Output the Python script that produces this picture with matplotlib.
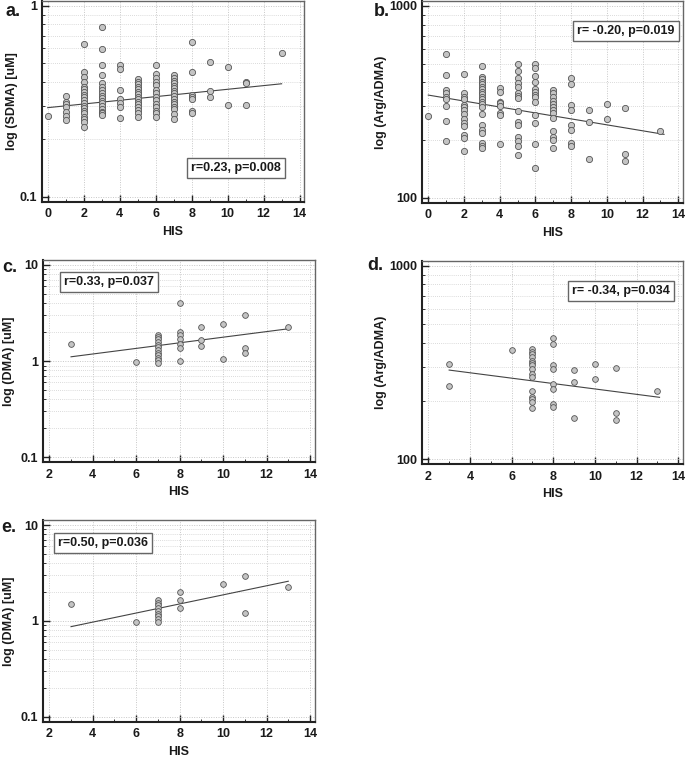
import numpy as np
import matplotlib
matplotlib.use("Agg")
import matplotlib.pyplot as plt
from matplotlib.ticker import FixedLocator, FixedFormatter, LogLocator, NullFormatter, MultipleLocator

plt.rcParams['font.family'] = ['Liberation Sans', 'DejaVu Sans']
plt.rcParams['font.weight'] = 'bold'

# ---------------- data ----------------
# Panel a: HIS vs SDMA
a_his = [0, 1, 2, 3, 4, 5, 6, 7, 8, 9, 10, 11, 13]
a_vals = [
    [0.264],
    [0.339, 0.315, 0.306, 0.294, 0.279, 0.265, 0.252],
    [0.629, 0.449, 0.426, 0.401, 0.378, 0.366, 0.355, 0.341, 0.332, 0.321, 0.309,
     0.299, 0.291, 0.281, 0.274, 0.263, 0.254, 0.247, 0.232],
    [0.779, 0.598, 0.489, 0.433, 0.393, 0.374, 0.362, 0.351, 0.337, 0.328, 0.319,
     0.309, 0.299, 0.290, 0.279, 0.274, 0.267],
    [0.490, 0.469, 0.362, 0.324, 0.309, 0.294, 0.258],
    [0.414, 0.401, 0.390, 0.378, 0.366, 0.355, 0.344, 0.335, 0.324, 0.315, 0.305,
     0.296, 0.285, 0.274, 0.261],
    [0.492, 0.440, 0.418, 0.401, 0.385, 0.362, 0.348, 0.335, 0.321, 0.305, 0.294,
     0.282, 0.274, 0.263],
    [0.435, 0.418, 0.404, 0.393, 0.380, 0.370, 0.358, 0.348, 0.337, 0.327, 0.315,
     0.306, 0.296, 0.287, 0.272, 0.255],
    [0.650, 0.449, 0.341, 0.332, 0.324, 0.281, 0.274],
    [0.507, 0.358, 0.332],
    [0.479, 0.304],
    [0.401, 0.393, 0.304],
    [0.565],
]
a_fit_x = [0, 13]
a_fit_y = [0.293, 0.391]
a_stat = "r=0.23, p=0.008"

# Panel b: HIS vs Arg/ADMA
b_his = [0, 1, 2, 3, 4, 5, 6, 7, 8, 9, 10, 11, 13]
b_vals = [
    [268],
    [562, 436, 365, 353, 336, 329, 301, 252, 198],
    [440, 350, 336, 326, 303, 296, 287, 272, 258, 246, 238, 213, 205, 176],
    [486, 428, 416, 403, 392, 380, 367, 357, 346, 336, 326, 317, 307, 298, 272,
     239, 225, 217, 192, 187, 181],
    [372, 355, 317, 311, 301, 275, 270, 191],
    [498, 458, 419, 398, 377, 350, 339, 330, 284, 249, 239, 208, 198, 185, 167],
    [496, 473, 431, 401, 367, 357, 343, 334, 317, 270, 244, 191, 143],
    [365, 350, 334, 319, 307, 298, 287, 275, 262, 223, 208, 200, 181],
    [419, 390, 303, 287, 239, 225, 192, 185],
    [286, 247, 160],
    [307, 256],
    [295, 170, 156],
    [223],
]
b_fit_x = [0, 13.2]
b_fit_y = [343, 214]
b_stat = "r= -0.20, p=0.019"

# Panel c: HIS vs DMA
c_his = [3, 6, 7, 8, 9, 10, 11, 13]
c_vals = [
    [1.51],
    [0.98],
    [1.89, 1.79, 1.68, 1.58, 1.48, 1.39, 1.30, 1.22, 1.15, 1.07, 1.02, 0.96],
    [4.04, 2.03, 1.85, 1.68, 1.51, 1.36, 1.01],
    [2.29, 1.65, 1.43],
    [2.42, 1.06],
    [2.99, 1.36, 1.22],
    [2.29],
]
c_fit_x = [3, 13]
c_fit_y = [1.11, 2.17]
c_stat = "r=0.33, p=0.037"

# Panel d: HIS vs Arg/ADMA
d_his = [3, 6, 7, 8, 9, 10, 11, 13]
d_vals = [
    [312, 240],
    [367],
    [370, 360, 348, 339, 322, 313, 306, 292, 275, 265, 226, 211, 204, 197, 184],
    [425, 392, 306, 292, 244, 230, 194, 187],
    [289, 250, 163],
    [310, 259],
    [297, 173, 160],
    [226],
]
d_fit_x = [3, 13.1]
d_fit_y = [289, 209]
d_stat = "r= -0.34, p=0.034"

# Panel e: HIS vs DMA
e_his = [3, 6, 7, 8, 10, 11, 13]
e_vals = [
    [1.50],
    [0.98],
    [1.64, 1.54, 1.45, 1.36, 1.27, 1.19, 1.12, 1.05, 0.97],
    [2.01, 1.64, 1.37],
    [2.41],
    [2.97, 1.21],
    [2.28],
]
e_fit_x = [3, 13]
e_fit_y = [0.87, 2.59]
e_stat = "r=0.50, p=0.036"

xlabel = "HIS"
ylabels = ["log (SDMA) [uM]", "log (Arg/ADMA)", "log (DMA) [uM]",
           "log (Arg/ADMA)", "log (DMA) [uM]"]
panel_letters = ["a.", "b.", "c.", "d.", "e."]

# ---------------- layout ----------------
W, H = 685, 758
fig = plt.figure(figsize=(W / 100, H / 100), dpi=100)

panels = [
    dict(rect=(47.7, 299.6, 6.0, 196.7), xr=(0, 14), yr=(0.1, 1),
         his=a_his, vals=a_vals, fx=a_fit_x, fy=a_fit_y, stat=a_stat,
         box=(236, 168), letter=(5, 12), ylab_off=30,
         yticks=[0.1, 1], ytl=["0.1", "1"]),
    dict(rect=(428.3, 678.3, 6.0, 197.7), xr=(0, 14), yr=(100, 1000),
         his=b_his, vals=b_vals, fx=b_fit_x, fy=b_fit_y, stat=b_stat,
         box=(626, 31), letter=(374, 12), ylab_off=41,
         yticks=[100, 1000], ytl=["100", "1000"]),
    dict(rect=(49.3, 310.0, 265.0, 457.3), xr=(2, 14), yr=(0.1, 10),
         his=c_his, vals=c_vals, fx=c_fit_x, fy=c_fit_y, stat=c_stat,
         box=(109, 282), letter=(2, 268), ylab_off=34,
         yticks=[0.1, 1, 10], ytl=["0.1", "1", "10"]),
    dict(rect=(428.3, 678.3, 265.7, 459.3), xr=(2, 14), yr=(100, 1000),
         his=d_his, vals=d_vals, fx=d_fit_x, fy=d_fit_y, stat=d_stat,
         box=(621, 291), letter=(367, 266), ylab_off=41,
         yticks=[100, 1000], ytl=["100", "1000"]),
    dict(rect=(49.3, 310.0, 525.0, 716.7), xr=(2, 14), yr=(0.1, 10),
         his=e_his, vals=e_vals, fx=e_fit_x, fy=e_fit_y, stat=e_stat,
         box=(103, 543), letter=(1, 528), ylab_off=34,
         yticks=[0.1, 1, 10], ytl=["0.1", "1", "10"]),
]

PADL, PADR, PADV = 6.0, 4.5, 5.0
mfill, medge = "#c4c4c4", "#555555"

for i, p in enumerate(panels):
    x0, x1, y0, y1 = p["rect"]
    fl, fr = x0 - PADL, x1 + PADR
    ft, fb = y0 - PADV, y1 + PADV
    ax = fig.add_axes([fl / W, 1 - fb / H, (fr - fl) / W, (fb - ft) / H])
    ax.set_yscale("log")
    xmin, xmax = p["xr"]
    ux = (x1 - x0) / (xmax - xmin)
    ax.set_xlim(xmin - PADL / ux, xmax + PADR / ux)
    ymin, ymax = p["yr"]
    dec = (y1 - y0) / (np.log10(ymax) - np.log10(ymin))
    ax.set_ylim(ymin * 10 ** (-PADV / dec), ymax * 10 ** (PADV / dec))

    xs, ys = [], []
    for h, vs in zip(p["his"], p["vals"]):
        xs.extend([h] * len(vs))
        ys.extend(vs)
    ms = 20 if i < 2 else 17
    ax.scatter(xs, ys, s=ms, facecolor=mfill, edgecolor=medge, linewidth=0.6, zorder=3)
    ax.plot(p["fx"], p["fy"], color="#444444", linewidth=0.8, zorder=2)

    ax.xaxis.set_major_locator(MultipleLocator(2))
    ax.xaxis.set_minor_locator(MultipleLocator(1))
    ax.yaxis.set_major_locator(FixedLocator(p["yticks"]))
    ax.yaxis.set_major_formatter(FixedFormatter(p["ytl"]))
    ax.yaxis.set_minor_locator(LogLocator(base=10, subs=np.arange(2, 10)))
    ax.yaxis.set_minor_formatter(NullFormatter())
    ax.tick_params(which="major", direction="in", length=5, width=1.0,
                   color="#222222", labelsize=9, labelcolor="#1a1a1a", pad=3.5)
    ax.tick_params(axis="x", which="major", pad=4.5)
    ax.tick_params(which="minor", direction="in", length=2.5, width=0.7, color="#333333")
    ax.tick_params(top=False, right=False, which="both")
    for lab in ax.get_xticklabels() + ax.get_yticklabels():
        lab.set_fontweight("bold")

    ax.grid(True, which="major", axis="both", linestyle=(0, (1, 1.5)),
            color="#c8c8c8", linewidth=0.7, zorder=0)
    ax.grid(True, which="minor", axis="y", linestyle=(0, (1, 1.5)),
            color="#cfcfcf", linewidth=0.6, zorder=0)
    ax.set_axisbelow(True)

    for side in ("left", "bottom"):
        ax.spines[side].set_color("#222222")
        ax.spines[side].set_linewidth(1.5)
    for side in ("top", "right"):
        ax.spines[side].set_color("#666666")
        ax.spines[side].set_linewidth(1.0)

    ax.set_ylabel(ylabels[i], fontsize=9, fontweight="bold", color="#1a1a1a",
                  va="center")
    ax.yaxis.set_label_coords(-p["ylab_off"] / (fr - fl), 0.5)
    ax.set_xlabel(xlabel, fontsize=9, fontweight="bold", color="#1a1a1a",
                  va="center")
    ax.xaxis.set_label_coords(0.5, -30.0 / (fb - ft))

    bx, by = p["box"]
    fig.text(bx / W, 1 - by / H, p["stat"], fontsize=9, fontweight="bold",
             ha="center", va="center", color="#1a1a1a",
             bbox=dict(boxstyle="square,pad=0.35", facecolor="white",
                       edgecolor="#666666", linewidth=1.0))

    lx, ly = p["letter"]
    fig.text(lx / W, 1 - ly / H, panel_letters[i], fontsize=13, fontweight="bold",
             ha="left", va="center", color="#1a1a1a")

fig.savefig("out.png", dpi=100)
